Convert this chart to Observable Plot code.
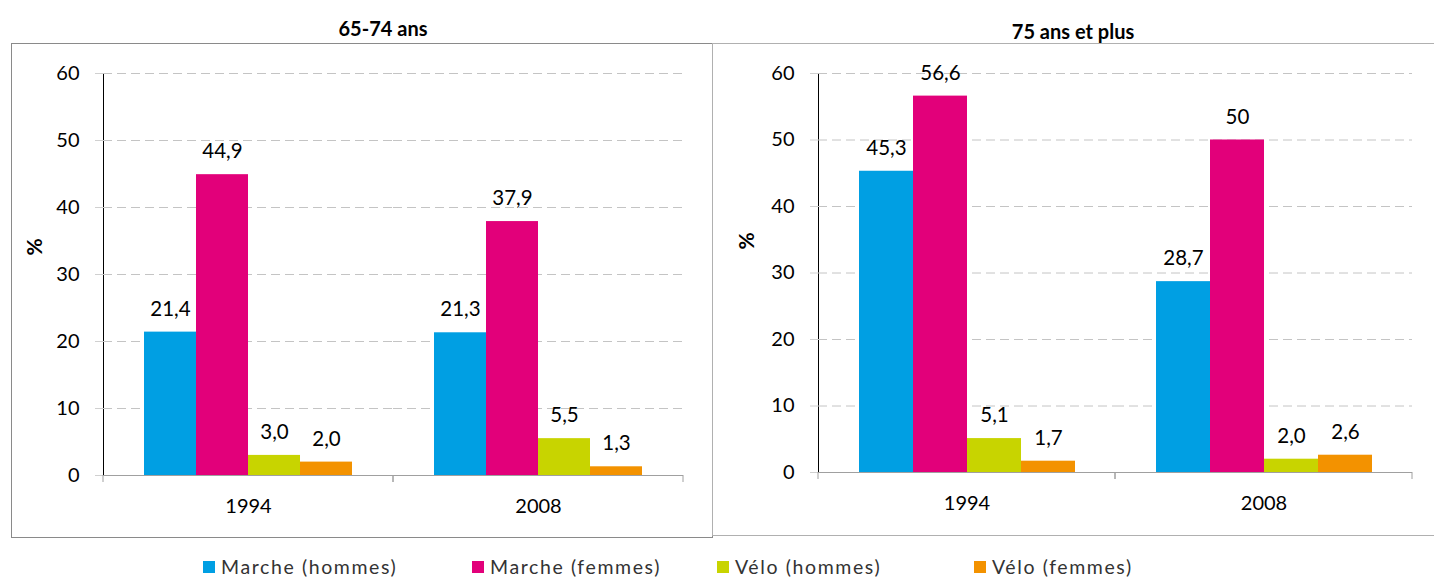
<!DOCTYPE html>
<html>
<head>
<meta charset="utf-8">
<script src="https://cdn.jsdelivr.net/npm/d3@7"></script>
<script src="https://cdn.jsdelivr.net/npm/@observablehq/plot@0.6"></script>
<style>
  html, body { margin: 0; padding: 0; background: #fff; overflow: hidden; }
  #root { position: relative; width: 1434px; height: 577px; font-family: Lato, "Open Sans", sans-serif; }
  .title { position: absolute; font-weight: bold; font-size: 20px; color: #000; transform: translate(-50%, -50%); white-space: nowrap; }
  .box { position: absolute; box-sizing: border-box; }
  .legend-item { position: absolute; display: flex; align-items: center; font-size: 19.5px; letter-spacing: 1.6px; color: #333; white-space: nowrap; }
  .swatch { width: 12px; height: 12px; margin-right: 6px; flex: none; }
  .ylab { position: absolute; font-weight: bold; font-size: 21px; transform: translate(-50%, -50%) rotate(-90deg); }
</style>
</head>
<body>
<div id="root"></div>
<script>
// ---- data ----
const years = ["1994", "2008"];
const series = ["Marche (hommes)", "Marche (femmes)", "Vélo (hommes)", "Vélo (femmes)"];
const colors = ["#009FE3", "#E2007A", "#C8D400", "#F39200"];
const yTicks = [0, 10, 20, 30, 40, 50, 60];

const titles = ["65-74 ans", "75 ans et plus"];

// 65-74 ans
const young1994 = [21.4, 44.9, 3.0, 2.0];
const young2008 = [21.3, 37.9, 5.5, 1.3];
const youngLabels1994 = ["21,4", "44,9", "3,0", "2,0"];
const youngLabels2008 = ["21,3", "37,9", "5,5", "1,3"];

// 75 ans et plus
const old1994 = [45.3, 56.6, 5.1, 1.7];
const old2008 = [28.7, 50, 2.0, 2.6];
const oldLabels1994 = ["45,3", "56,6", "5,1", "1,7"];
const oldLabels2008 = ["28,7", "50", "2,0", "2,6"];

function buildRows(v1994, v2008, l1994, l2008) {
  const rows = [];
  [[v1994, l1994], [v2008, l2008]].forEach(([vals, labs], gi) => {
    series.forEach((s, si) => rows.push({year: years[gi], series: s, value: vals[si], label: labs[si]}));
  });
  return rows;
}

const root = document.getElementById("root");

function makePanel(rows, opts) {
  const boundaryTicks = (index, scales, values, dimensions) => {
    const {marginLeft, marginRight, width} = dimensions;
    const y0 = scales.y(0);
    const g = d3.create("svg:g");
    [marginLeft, width - marginRight].forEach(x => {
      g.append("line").attr("x1", x).attr("x2", x).attr("y1", y0).attr("y2", y0 + 7)
        .attr("stroke", "#a0a0a0");
    });
    return g.node();
  };
  const svg = Plot.plot({
    width: opts.width,
    height: opts.height,
    marginLeft: opts.marginLeft,
    marginRight: opts.marginRight,
    marginTop: opts.marginTop,
    marginBottom: opts.marginBottom,
    style: {fontFamily: "Lato, 'Open Sans', sans-serif", fontSize: "20px", color: "#000", background: "transparent", overflow: "visible"},
    facet: {data: rows, x: "year"},
    fx: {domain: years, padding: 0, label: null, tickSize: 0, tickPadding: 23, axis: "bottom"},
    x: {domain: series, paddingInner: 0, paddingOuter: 0.75, axis: null},
    y: {domain: [0, 60], ticks: yTicks, tickSize: 8, tickPadding: 16, label: null, line: true},
    color: {domain: series, range: colors},
    marks: [
      Plot.ruleY(yTicks.filter(d => d > 0), {stroke: "#c4c4c4", strokeDasharray: "9,5", strokeWidth: 1}),
      Plot.barY(rows, {x: "series", y: "value", fill: "series"}),
      Plot.ruleY([0], {stroke: "#a0a0a0"}),
      boundaryTicks,
      Plot.text(rows, {x: "series", y: "value", text: "label", dy: -23, fontSize: 20.5, fill: "#000"})
    ]
  });
  d3.select(svg).selectAll('[aria-label^="y-axis"] line, [aria-label^="y-axis"] path')
    .attr("stroke", "#d0d0d0");
  svg.style.position = "absolute";
  svg.style.left = opts.left + "px";
  svg.style.top = opts.top + "px";
  return svg;
}

// boxes
const box1 = document.createElement("div");
box1.className = "box";
Object.assign(box1.style, {left: "11px", top: "43px", width: "702px", height: "495px", border: "1px solid #8a8a8a"});
root.appendChild(box1);
const box2 = document.createElement("div");
box2.className = "box";
Object.assign(box2.style, {left: "712px", top: "43px", width: "740px", height: "493px", border: "1px solid #b0b0b0"});
root.appendChild(box2);

// titles
[[titles[0], 383, 28], [titles[1], 1073, 31]].forEach(([t, x, y]) => {
  const d = document.createElement("div");
  d.className = "title"; d.textContent = t;
  d.style.left = x + "px"; d.style.top = y + "px";
  root.appendChild(d);
});

root.appendChild(makePanel(buildRows(young1994, young2008, youngLabels1994, youngLabels2008),
  {left: 11, top: 43, width: 701, height: 494, marginLeft: 92, marginRight: 29, marginTop: 30, marginBottom: 62}));
root.appendChild(makePanel(buildRows(old1994, old2008, oldLabels1994, oldLabels2008),
  {left: 712, top: 43, width: 722, height: 494, marginLeft: 106, marginRight: 22, marginTop: 30, marginBottom: 65}));

// y labels
[[33, 247], [745, 241]].forEach(([x, y]) => {
  const d = document.createElement("div");
  d.className = "ylab"; d.textContent = "%";
  d.style.left = x + "px"; d.style.top = y + "px";
  root.appendChild(d);
});

// legend
const legendX = [203, 472, 717, 974];
series.forEach((s, i) => {
  const item = document.createElement("div");
  item.className = "legend-item";
  item.style.left = legendX[i] + "px";
  item.style.top = "555px";
  const sw = document.createElement("span");
  sw.className = "swatch"; sw.style.background = colors[i];
  const tx = document.createElement("span");
  tx.textContent = s;
  item.appendChild(sw); item.appendChild(tx);
  root.appendChild(item);
});
</script>
</body>
</html>
